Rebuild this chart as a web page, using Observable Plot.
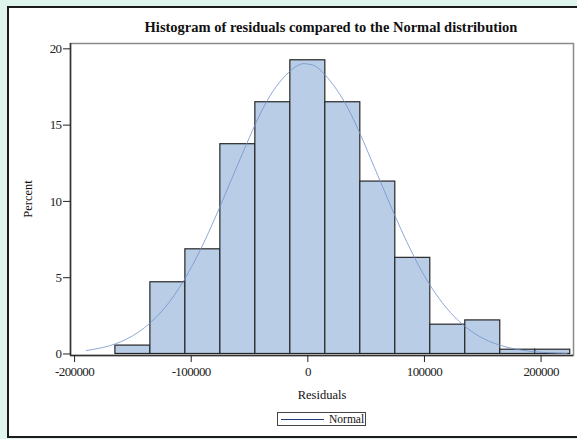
<!DOCTYPE html>
<html><head><meta charset="utf-8">
<script src="https://cdn.jsdelivr.net/npm/d3@7"></script>
<script src="https://cdn.jsdelivr.net/npm/@observablehq/plot@0.6"></script>
<style>
body{margin:0;width:577px;height:439px;overflow:hidden;background:#dff4ec;position:relative;font-family:"Liberation Serif","Times New Roman",serif;color:#111;}
#panel{position:absolute;left:7px;top:6px;width:600px;height:428px;border:2px solid #1b1b1b;background:#fff;}
#title{position:absolute;left:0;width:662px;top:19px;text-align:center;font-weight:bold;font-size:14.5px;line-height:16px;}
#chart{position:absolute;left:0;top:0;}
#chart svg text{letter-spacing:-0.6px;}
#xlabel{position:absolute;left:222px;width:200px;top:387px;text-align:center;font-size:12.5px;line-height:16px;}
#ylabel{position:absolute;left:-72px;width:200px;top:191px;text-align:center;font-size:12.5px;line-height:16px;transform:rotate(-90deg);}
#legend{position:absolute;left:277px;top:412px;width:87px;height:12px;border:1px solid #444;background:#fff;font-size:11.5px;line-height:12px;}
#legend .ln{position:absolute;left:3px;top:6px;width:43px;height:1px;background:#1f3a7a;}
#legend .tx{position:absolute;left:51px;top:0;}
</style></head>
<body>
<div id="panel"></div>
<div id="chart"></div>
<div id="title">Histogram of residuals compared to the Normal distribution</div>
<div id="xlabel">Residuals</div>
<div id="ylabel">Percent</div>
<div id="legend"><div class="ln"></div><div class="tx">Normal</div></div>
<script>
// Histogram bins (residuals) and percent of observations
const binLow  = [-165000,-135000,-105000,-75000,-45000,-15000,15000,45000,75000,105000,135000,165000,195000];
const binHigh = [-135000,-105000,-75000,-45000,-15000,15000,45000,75000,105000,135000,165000,195000,225000];
const percent = [0.55,4.7,6.86,13.75,16.5,19.25,16.5,11.3,6.3,1.92,2.2,0.28,0.28];

// Fitted normal curve (percent per bin)
const curveX   = [-190000,-170000,-150000,-130000,-110000,-90000,-70000,-50000,-30000,-10000,0,10000,30000,50000,70000,90000,110000,130000,150000,170000,190000,210000,222000];
const curvePct = [0.22,0.54,1.2,2.41,4.37,7.16,10.62,14.21,17.21,18.85,19.0,18.66,16.7,13.51,9.89,6.54,3.91,2.12,1.03,0.46,0.18,0.07,0.03];

const xTicks = [-200000,-100000,0,100000,200000];
const yTicks = [0,5,10,15,20];

const bars = binLow.map((lo,i)=>({lo, hi: binHigh[i], p: percent[i]}));
const curve = curveX.map((x,i)=>({x, p: curvePct[i]}));

const xMin = -203500, xMax = 227800, yMin = -0.1, yMax = 20.35;

const chart = Plot.plot({
  width: 577, height: 439,
  marginLeft: 70, marginRight: 4, marginTop: 43, marginBottom: 84,
  style: {background: "transparent", fontFamily: "Liberation Serif, Times New Roman, serif", fontSize: "13px", color: "#222"},
  x: {domain: [xMin, xMax]},
  y: {domain: [yMin, yMax]},
  marks: [
    Plot.frame({stroke: "#8a8a8a", strokeWidth: 1.5}),
    Plot.rectY(bars, {x1: "lo", x2: "hi", y1: 0, y2: "p", fill: "#b9cee6", stroke: "#262626", strokeWidth: 1.2}),
    Plot.line(curve, {x: "x", y: "p", stroke: "#7492cb", strokeWidth: 0.8, curve: "natural"}),
    Plot.ruleX([xMin], {stroke: "#333", strokeWidth: 1.5}),
    Plot.ruleY([yMin], {stroke: "#333", strokeWidth: 1.5}),
    Plot.axisX(xTicks, {tickSize: 7, tickPadding: 4, tickFormat: d => String(d), fontSize: 13, label: null}),
    Plot.axisY(yTicks, {tickSize: 7, tickPadding: 2, tickFormat: d => String(d), fontSize: 13, label: null})
  ]
});
document.getElementById("chart").appendChild(chart);
</script>
</body></html>
